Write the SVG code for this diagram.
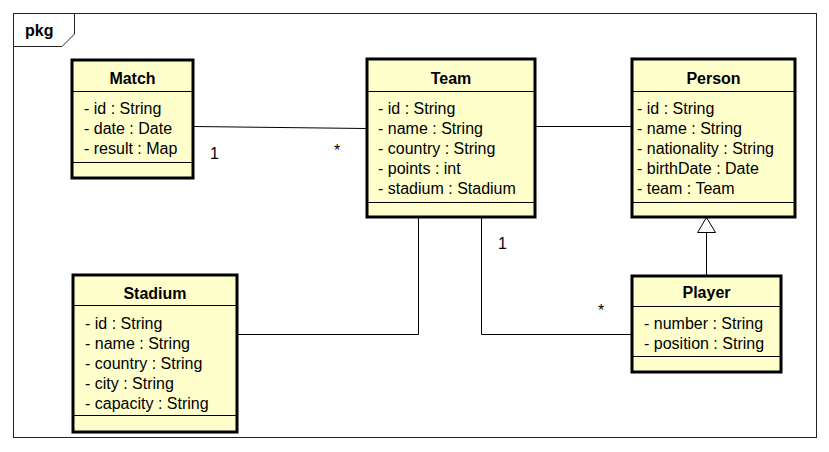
<svg xmlns="http://www.w3.org/2000/svg" width="829" height="452" viewBox="0 0 829 452">
<style>
.box{fill:#ffffcc;stroke:#000;stroke-width:3}
.sep{stroke:#000;stroke-width:1}
.t{font-family:"Liberation Sans",Arial,sans-serif;font-size:16px;fill:#000}
.b{font-weight:bold;text-anchor:middle}
.c{fill:none;stroke:#000;stroke-width:1}
</style>
<rect width="829" height="452" fill="#fff"/>
<g id="frame">
<rect x="13.5" y="13.5" width="803" height="424" fill="none" stroke="#222" stroke-width="1"/>
<path d="M13.5 46.5 H62 L74.5 34 V13.5" fill="none" stroke="#222" stroke-width="1"/>
<text class="t" x="25" y="36" font-weight="bold">pkg</text>
</g>
<g id="connectors">
<path class="c" d="M193 126.5 L366 128.5"/>
<path class="c" d="M535 126.5 H632"/>
<path class="c" d="M418.5 217 V334.5 H237"/>
<path class="c" d="M481.5 217 V334.5 H632"/>
<path class="c" d="M706.5 275 V232"/>
<path d="M706.5 217.5 L697.5 232.5 H715.5 Z" fill="#fff" stroke="#000" stroke-width="1"/>
<text class="t" x="210" y="159">1</text>
<text class="t" x="334" y="156">*</text>
<text class="t" x="498" y="249">1</text>
<text class="t" x="598" y="316">*</text>
</g>
<g id="Match">
<rect class="box" x="72" y="60" width="121" height="118"/>
<line class="sep" x1="72" y1="91.5" x2="193" y2="91.5"/>
<line class="sep" x1="72" y1="162.5" x2="193" y2="162.5"/>
<text class="t b" x="132.5" y="84">Match</text>
<text class="t" x="84" y="114">- id : String</text>
<text class="t" x="84" y="134">- date : Date</text>
<text class="t" x="84" y="154">- result : Map</text>
</g>
<g id="Team">
<rect class="box" x="367" y="59" width="168" height="158"/>
<line class="sep" x1="367" y1="91.5" x2="535" y2="91.5"/>
<line class="sep" x1="367" y1="202.5" x2="535" y2="202.5"/>
<text class="t b" x="451" y="84">Team</text>
<text class="t" x="378" y="114">- id : String</text>
<text class="t" x="378" y="134">- name : String</text>
<text class="t" x="378" y="154">- country : String</text>
<text class="t" x="378" y="174">- points : int</text>
<text class="t" x="378" y="194">- stadium : Stadium</text>
</g>
<g id="Person">
<rect class="box" x="632" y="59" width="163" height="158"/>
<line class="sep" x1="632" y1="91.5" x2="795" y2="91.5"/>
<line class="sep" x1="632" y1="202.5" x2="795" y2="202.5"/>
<text class="t b" x="713.5" y="84">Person</text>
<text class="t" x="637" y="114">- id : String</text>
<text class="t" x="637" y="134">- name : String</text>
<text class="t" x="637" y="154">- nationality : String</text>
<text class="t" x="637" y="174">- birthDate : Date</text>
<text class="t" x="637" y="194">- team : Team</text>
</g>
<g id="Stadium">
<rect class="box" x="73" y="275" width="164" height="157"/>
<line class="sep" x1="73" y1="305.5" x2="237" y2="305.5"/>
<line class="sep" x1="73" y1="415.5" x2="237" y2="415.5"/>
<text class="t b" x="155" y="299">Stadium</text>
<text class="t" x="85" y="329">- id : String</text>
<text class="t" x="85" y="349">- name : String</text>
<text class="t" x="85" y="369">- country : String</text>
<text class="t" x="85" y="389">- city : String</text>
<text class="t" x="85" y="409">- capacity : String</text>
</g>
<g id="Player">
<rect class="box" x="632" y="276" width="149" height="96"/>
<line class="sep" x1="632" y1="306.5" x2="781" y2="306.5"/>
<line class="sep" x1="632" y1="356.5" x2="781" y2="356.5"/>
<text class="t b" x="706.5" y="298">Player</text>
<text class="t" x="644" y="329">- number : String</text>
<text class="t" x="644" y="349">- position : String</text>
</g>
</svg>
